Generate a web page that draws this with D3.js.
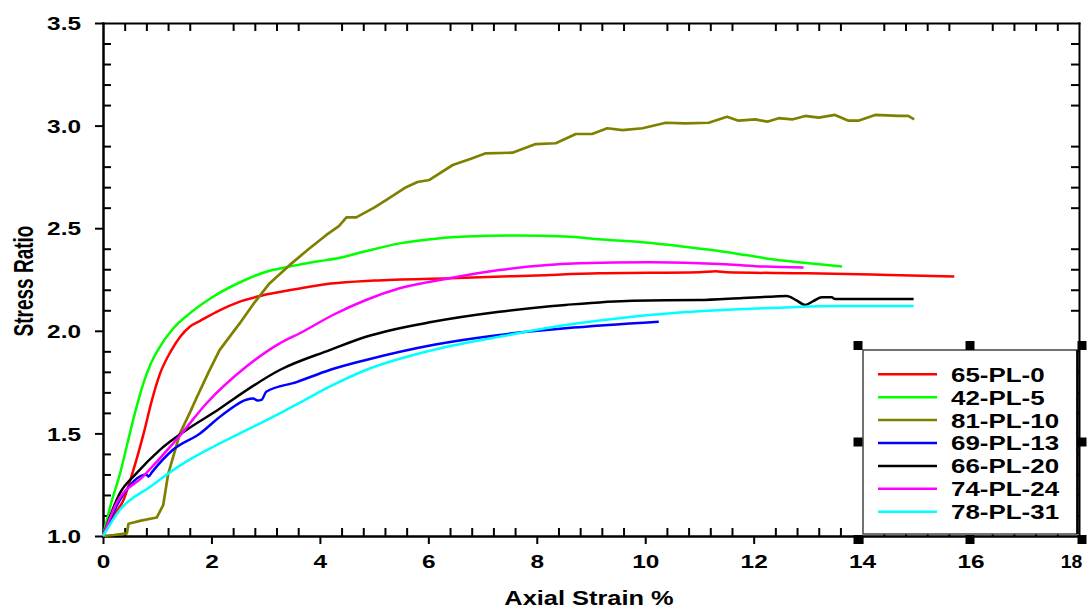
<!DOCTYPE html>
<html>
<head>
<meta charset="utf-8">
<script src="https://cdn.jsdelivr.net/npm/d3@7"></script>
<style>
  body { margin: 0; background: #fff; }
  svg { display: block; }
  text { font-family: "Liberation Sans", Arial, sans-serif; font-weight: bold; fill: #000; }
</style>
</head>
<body>
<svg id="chart" width="1091" height="608"></svg>
<script>
// Tick values for both axes
const xTicks = [0, 2, 4, 6, 8, 10, 12, 14, 16, 18];
const yTicks = [1.0, 1.5, 2.0, 2.5, 3.0, 3.5];

// Series names and colours (legend order)
const seriesNames = ["65-PL-0", "42-PL-5", "81-PL-10", "69-PL-13", "66-PL-20", "74-PL-24", "78-PL-31"];
const seriesColors = ["#ff0000", "#00ff00", "#808000", "#0000ff", "#000000", "#ff00ff", "#00ffff"];

// [axial strain %, stress ratio] for each test
const pl0 = [[0,1],[0.22,1.11],[0.37,1.17],[0.5,1.27],[0.75,1.5],[0.9,1.66],[1.05,1.79],[1.25,1.9],[1.42,1.97],[1.6,2.02],[1.8,2.05],[2.15,2.1],[2.5,2.14],[2.9,2.17],[3.6,2.205],[4.2,2.23],[5,2.245],[6.4,2.256],[8,2.27],[9.15,2.28],[11,2.285],[11.3,2.29],[11.5,2.285],[13,2.28],[14.5,2.272],[15.7,2.265]];
const pl5 = [[0,1],[0.15,1.16],[0.31,1.3],[0.44,1.44],[0.59,1.6],[0.74,1.74],[0.88,1.84],[1.02,1.91],[1.29,2.01],[1.6,2.085],[2.03,2.166],[2.64,2.25],[3.01,2.288],[3.38,2.31],[4.0,2.34],[4.35,2.355],[4.8,2.385],[5.47,2.426],[6.0,2.445],[6.69,2.459],[7.61,2.464],[8.53,2.459],[9.15,2.446],[10.0,2.43],[10.62,2.413],[11.2,2.395],[11.85,2.369],[12.3,2.35],[12.83,2.334],[13.63,2.313]];
const pl10 = [[0,1],[0.2,1.005],[0.44,1.013],[0.47,1.06],[0.7,1.075],[0.99,1.09],[1.11,1.15],[1.2,1.3],[1.42,1.5],[1.6,1.6],[1.72,1.67],[1.95,1.8],[2.15,1.906],[2.52,2.036],[2.8,2.14],[3.07,2.231],[3.44,2.32],[3.8,2.4],[4.12,2.467],[4.35,2.51],[4.49,2.553],[4.67,2.553],[5.0,2.6],[5.22,2.637],[5.59,2.70],[5.8,2.725],[6.02,2.735],[6.45,2.808],[6.8,2.84],[7.06,2.865],[7.55,2.868],[7.98,2.91],[8.35,2.914],[8.72,2.959],[9.02,2.959],[9.3,2.987],[9.58,2.978],[9.95,2.987],[10.38,3.014],[10.74,3.011],[11.17,3.014],[11.51,3.043],[11.72,3.024],[12.03,3.03],[12.25,3.019],[12.46,3.036],[12.71,3.03],[12.95,3.047],[13.2,3.039],[13.5,3.052],[13.75,3.024],[13.93,3.024],[14.24,3.052],[14.67,3.047],[14.85,3.047],[14.96,3.03]];
const pl13 = [[0,1],[0.31,1.175],[0.8,1.3],[0.84,1.29],[0.9,1.31],[1.29,1.42],[1.79,1.5],[2.2,1.59],[2.77,1.67],[2.85,1.66],[2.93,1.665],[3.01,1.703],[3.57,1.75],[4.18,1.809],[4.85,1.858],[6.08,1.931],[7.31,1.98],[8.53,2.012],[10.25,2.044]];
const pl20 = [[0,1],[0.31,1.208],[0.62,1.306],[1.05,1.42],[1.54,1.517],[2.15,1.62],[2.34,1.655],[3.26,1.809],[4.18,1.906],[4.85,1.971],[6.08,2.044],[7.31,2.093],[8.53,2.126],[9.76,2.147],[10.99,2.15],[11.8,2.16],[12.28,2.166],[12.61,2.17],[12.78,2.15],[12.95,2.126],[13.1,2.145],[13.26,2.163],[13.44,2.163],[13.5,2.155],[14.95,2.155]];
const pl24 = [[0,1],[0.25,1.16],[0.74,1.29],[1.29,1.45],[1.42,1.49],[1.91,1.647],[2.64,1.825],[3.26,1.939],[3.63,1.988],[4.24,2.077],[4.85,2.15],[5.47,2.207],[6.39,2.256],[7.31,2.296],[8.78,2.329],[10.07,2.334],[11.0,2.329],[11.48,2.324],[12.22,2.313],[12.92,2.308]];
const pl31 = [[0,1],[0.31,1.127],[0.87,1.24],[1.48,1.354],[2.03,1.435],[2.4,1.484],[3.26,1.598],[3.63,1.65],[4.18,1.728],[4.85,1.809],[6.08,1.906],[7.31,1.971],[8.53,2.028],[9.76,2.069],[10.99,2.095],[12.58,2.114],[13.56,2.121],[14.95,2.121]];

const seriesData = [pl0, pl5, pl10, pl13, pl20, pl24, pl31];

const svg = d3.select("#chart");
const plotLeft = 103, plotRight = 1079, plotTop = 23, plotBottom = 536;

const x = d3.scaleLinear().domain([0, 18]).range([plotLeft, plotRight]);
const y = d3.scaleLinear().domain([1, 3.5]).range([plotBottom, plotTop]);

const xMinor = d3.range(0, 18.001, 0.4).filter(v => Math.abs(v / 2 - Math.round(v / 2)) > 1e-6);
const yMinor = d3.range(1, 3.5001, 0.1).filter(v => Math.abs(v / 0.5 - Math.round(v / 0.5)) > 1e-6);

const axisStyle = g => {
  g.selectAll("path, line").attr("stroke", "#000").attr("stroke-width", 2);
  g.select(".domain").attr("stroke-linecap", "square");
};

// Frame: top and right sides carry only inward minor ticks
svg.append("g").attr("transform", `translate(0,${plotTop})`)
  .call(d3.axisTop(x).tickValues(xMinor).tickSize(-8).tickSizeOuter(0).tickFormat(""))
  .call(axisStyle);
svg.append("g").attr("transform", `translate(${plotRight},0)`)
  .call(d3.axisRight(y).tickValues(yMinor).tickSize(-8).tickSizeOuter(0).tickFormat(""))
  .call(axisStyle);

// Bottom axis: minor ticks inward, major ticks outward with labels
svg.append("g").attr("transform", `translate(0,${plotBottom})`)
  .call(d3.axisBottom(x).tickValues(xMinor).tickSize(-8).tickSizeOuter(0).tickFormat(""))
  .call(axisStyle);
const xAxisG = svg.append("g").attr("transform", `translate(0,${plotBottom})`)
  .call(d3.axisBottom(x).tickValues(xTicks).tickSize(8).tickSizeOuter(0).tickFormat(d3.format("d")))
  .call(axisStyle);
const lastX = xTicks[xTicks.length - 1];
xAxisG.selectAll("text")
  .attr("y", null).attr("dy", null)
  .attr("transform", d => d === lastX
    ? "translate(-8,32) scale(1.05,1)"   // the label at the frame corner is squeezed in
    : "translate(0,32) scale(1.32,1)")
  .attr("font-size", 18.5).attr("fill", "#000");

// Left axis
svg.append("g").attr("transform", `translate(${plotLeft},0)`)
  .call(d3.axisLeft(y).tickValues(yMinor).tickSize(-8).tickSizeOuter(0).tickFormat(""))
  .call(axisStyle);
const yAxisG = svg.append("g").attr("transform", `translate(${plotLeft},0)`)
  .call(d3.axisLeft(y).tickValues(yTicks).tickSize(8).tickSizeOuter(0).tickFormat(d3.format(".1f")))
  .call(axisStyle);
yAxisG.selectAll("text")
  .attr("x", null).attr("dy", "0.36em")
  .attr("transform", "translate(-22,0) scale(1.32,1)")
  .attr("font-size", 18.5).attr("fill", "#000");

// Axis titles
svg.append("text")
  .attr("transform", "translate(589,605) scale(1.27,1)")
  .attr("text-anchor", "middle").attr("font-size", 20)
  .text("Axial Strain %");
svg.append("text")
  .attr("transform", "translate(23,281) rotate(-90) scale(1,1.42)")
  .attr("text-anchor", "middle").attr("dy", "0.36em").attr("font-size", 19)
  .text("Stress Ratio");

// Curves: the noisy 81-PL-10 record is joined point to point, the rest smoothly
seriesData.forEach((data, i) => {
  const line = d3.line()
    .x(d => x(d[0])).y(d => y(d[1]))
    .curve(i === 2 ? d3.curveLinear : d3.curveMonotoneX);
  svg.append("path")
    .datum(data)
    .attr("fill", "none")
    .attr("stroke", seriesColors[i])
    .attr("stroke-width", i === 2 ? 2.7 : 2.5)
    .attr("stroke-linejoin", "round")
    .attr("d", line);
});

// Legend box
const lg = { x0: 863, y0: 350, x1: 1077, y1: 534 };
svg.append("rect")
  .attr("x", lg.x0).attr("y", lg.y0)
  .attr("width", lg.x1 - lg.x0).attr("height", lg.y1 - lg.y0)
  .attr("fill", "#fff").attr("stroke", "#444").attr("stroke-width", 1.5);
svg.append("line")
  .attr("x1", lg.x1 + 0.5).attr("x2", lg.x1 + 0.5).attr("y1", lg.y0).attr("y2", lg.y1)
  .attr("stroke", "#000").attr("stroke-width", 2.5);

const legendRows = svg.append("g").selectAll("g")
  .data(seriesNames)
  .join("g")
  .attr("transform", (d, i) => `translate(0,${374.3 + i * 22.9})`);
legendRows.append("line")
  .attr("x1", 878).attr("x2", 937).attr("y1", 0).attr("y2", 0)
  .attr("stroke", (d, i) => seriesColors[i]).attr("stroke-width", 2.5);
legendRows.append("text")
  .attr("transform", "translate(951,7.4) scale(1.33,1)")
  .attr("font-size", 19.5)
  .text(d => d);

// Selection handles around the legend
const hx = [858, 970, 1082], hy = [345.5, 442, 539.5];
const handles = [];
hx.forEach((cx, i) => hy.forEach((cy, j) => { if (!(i === 1 && j === 1)) handles.push([cx, cy]); }));
svg.append("g").selectAll("rect")
  .data(handles)
  .join("rect")
  .attr("x", d => d[0] - 4.5).attr("y", d => d[1] - 4.5)
  .attr("width", 9).attr("height", 9)
  .attr("fill", "#000");
</script>
</body>
</html>
